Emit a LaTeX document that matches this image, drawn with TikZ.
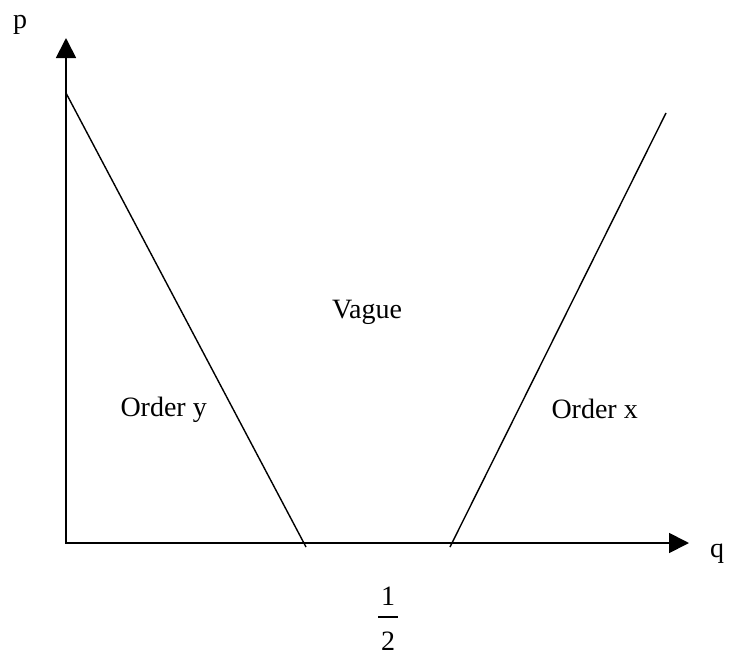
\documentclass[tikz,border=0pt]{standalone}
\usepackage{fontspec}
\setmainfont{Liberation Serif}
\usetikzlibrary{arrows.meta,positioning}

\begin{document}
\begin{tikzpicture}[
  x=1pt, y=-1pt,
  lbl/.style={inner sep=0pt, font=\fontsize{28}{33}\selectfont},
  axis/.style={{Triangle[length=20pt,width=20pt]}-{Triangle[length=20pt,width=20pt]},
    line width=1.8pt},
  border/.style={line width=1.4pt}
]
\useasboundingbox (0,0) rectangle (729,656);
\coordinate (origin) at (66,543);
\coordinate (ptip) at (66,38);
\coordinate (qtip) at (689,543);
\coordinate (ytop) at (66,93);
\coordinate (ybot) at (306,547);
\coordinate (xbot) at (450,547);
\coordinate (xtop) at (666,113);
\coordinate (bar) at (388,617);
\draw[axis] (ptip) -- (origin) -- (qtip);
\draw[border] (ytop) -- (ybot);
\draw[border] (xbot) -- (xtop);
\node[lbl, anchor=base] (p) at (20,28) {p};
\node[lbl, anchor=base] (q) at (717,557) {q};
\node[lbl, anchor=base] (vague) at (367,318) {Vague};
\node[lbl, anchor=base east] (ordy) at (207,416) {Order y};
\node[lbl, anchor=base east] (ordx) at (638,418) {Order x};
\node[lbl, anchor=base] (num) at (388,605) {1};
\node[lbl, anchor=base] (den) at (388,650) {2};
\draw[line width=1.2pt] ([xshift=-10pt]bar) -- ([xshift=10pt]bar);
\end{tikzpicture}
\end{document}
